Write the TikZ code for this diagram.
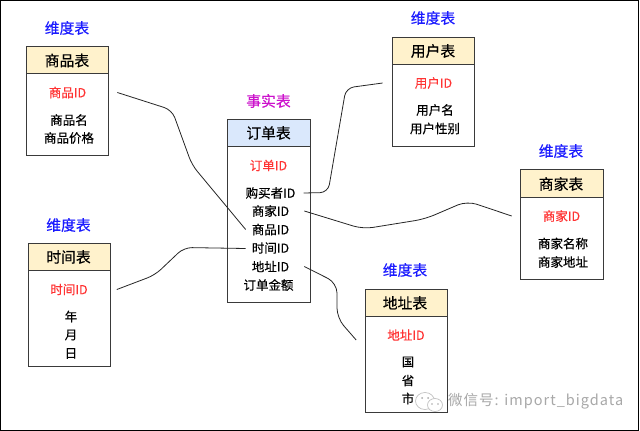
\documentclass[tikz,border=0pt]{standalone}
\usepackage{fontspec}
\setmainfont[FakeBold=0.35]{Noto Sans CJK SC}
\newfontfamily\wmfont[LetterSpace=7]{Noto Sans CJK SC}
\definecolor{hdyellow}{HTML}{FFF2CC}
\definecolor{hdblue}{HTML}{DAE8FC}
\definecolor{idred}{HTML}{FF3333}
\definecolor{dimblue}{HTML}{1A1AFF}
\definecolor{factmag}{HTML}{CC11CC}
\definecolor{wmgray}{HTML}{A8A8A8}
\definecolor{boxline}{HTML}{3A3A3A}
\tikzset{
  x=1pt,y=-1pt,
  tablebody/.style={draw=boxline,line width=1pt,fill=white},
  tablehead/.style={draw=boxline,line width=1pt},
  caption/.style={inner sep=0pt,font=\fontsize{14.8}{16}\selectfont},
  dimlabel/.style={caption,text=dimblue},
  factlabel/.style={caption,text=factmag},
  idfield/.style={inner sep=0pt,text=idred,font=\fontsize{12.5}{14}\selectfont},
  field/.style={inner sep=0pt,text=black,font=\fontsize{12.5}{14}\selectfont},
  link/.style={draw=black!85,line width=0.8pt,rounded corners=#1},
  link/.default=7pt
}
\newcommand{\tablebox}[7]{% name, x0, y0, x1, y1, yhead, colour
  \path[tablebody] (#2,#3) rectangle (#4,#5);
  \path[tablehead,fill=#7] (#2,#3) rectangle (#4,#6);
  \coordinate (#1) at (#2,#3);
}
\begin{document}
\begin{tikzpicture}
\useasboundingbox (0,0) rectangle (640,431);
\fill[white] (0,0) rectangle (640,431);
\draw[black,line width=1pt] (0.5,0.5) rectangle (638.5,430);

% tables
\tablebox{goods}{26}{46}{108}{155}{73}{hdyellow}
\tablebox{order}{227.5}{119.5}{310}{302}{146}{hdblue}
\tablebox{user}{392.5}{37}{474.5}{146}{64}{hdyellow}
\tablebox{shop}{520.5}{169.5}{603}{279}{197}{hdyellow}
\tablebox{time}{28}{243}{110}{366}{270}{hdyellow}
\tablebox{addr}{365}{289}{447}{412}{316}{hdyellow}

% goods
\node[dimlabel] (goodsdim) at (67,28) {维度表};
\node[caption] (goodstitle) at (67,60.5) {商品表};
\node[idfield] (goodsid) at (67.5,92.5) {商品ID};
\node[field] (goodsname) at (69,120) {商品名};
\node[field] (goodsprice) at (69,138) {商品价格};

% order
\node[factlabel] (factlab) at (268.5,101) {事实表};
\node[caption] (ordertitle) at (268.5,133) {订单表};
\node[idfield] (orderid) at (268.5,165.5) {订单ID};
\node[field] (obuyer) at (270.5,193) {购买者ID};
\node[field] (oshop) at (270.5,211) {商家ID};
\node[field] (ogoods) at (270.5,229.5) {商品ID};
\node[field] (otime) at (270.5,248) {时间ID};
\node[field] (oaddr) at (270.5,266.5) {地址ID};
\node[field] (oamount) at (268.5,285) {订单金额};

% user
\node[dimlabel] (userdim) at (433,18) {维度表};
\node[caption] (usertitle) at (433,51) {用户表};
\node[idfield] (userid) at (433.5,83) {用户ID};
\node[field] (username) at (435,110) {用户名};
\node[field] (usersex) at (435,128.5) {用户性别};

% shop
\node[dimlabel] (shopdim) at (561,151) {维度表};
\node[caption] (shoptitle) at (561,184) {商家表};
\node[idfield] (shopid) at (561.5,216) {商家ID};
\node[field] (shopname) at (563,243.5) {商家名称};
\node[field] (shopaddr) at (563,262) {商家地址};

% time
\node[dimlabel] (timedim) at (68.5,225) {维度表};
\node[caption] (timetitle) at (68.5,257) {时间表};
\node[idfield] (timeid) at (69,289.5) {时间ID};
\node[field] (tyear) at (71,316.5) {年};
\node[field] (tmonth) at (71,335) {月};
\node[field] (tday) at (71,353.5) {日};

% address
\node[dimlabel] (addrdim) at (405,270) {维度表};
\node[caption] (addrtitle) at (405,303) {地址表};
\node[idfield] (addrid) at (406,335) {地址ID};
\node[field] (acountry) at (408,362) {国};
\node[field] (aprov) at (408,380.5) {省};
\node[field] (acity) at (408,398.5) {市};

% connector ends, just clear of the field labels
\coordinate (goodsend) at ([xshift=31pt]goodsid.east);
\coordinate (ogoodsend) at ([xshift=-6pt]ogoods.west);
\coordinate (obuyerend) at ([xshift=8pt]obuyer.east);
\coordinate (userend) at ([xshift=-32pt]userid.west);
\coordinate (oshopend) at ([xshift=15pt]oshop.east);
\coordinate (shopend) at ([xshift=-31pt]shopid.west);
\coordinate (timeend) at ([xshift=29pt]timeid.east);
\coordinate (otimeend) at ([xshift=-6pt,yshift=-0.5pt]otime.west);
\coordinate (oaddrend) at ([xshift=15pt]oaddr.east);
\coordinate (addrend) at ([xshift=-31pt,yshift=-5pt]addrid.west);

% connectors
\draw[link=8pt] (goodsend) -- (172,110) -- (192,165) -- (ogoodsend);
\draw[link=8pt] (obuyerend) -- (328,192.5) -- (346,88) -- (userend);
\draw[link=10pt] (oshopend) -- (363,229) -- (425,219) -- (467,201) -- (shopend);
\draw[link=8pt] (timeend) -- (155,275) -- (184,247.5) -- (otimeend);
\draw[link=10pt] (oaddrend) -- (337,283) -- (337,318) -- (addrend);

% watermark
\begin{scope}[draw=wmgray!70,line width=0.7pt]
\draw (425,401) ellipse (9.5 and 8.5);
\draw[fill=white] (435,405) ellipse (7.5 and 6.5);
\fill[wmgray] (422,398) circle (1) (428,398) circle (1) (432,404) circle (0.8) (438,404) circle (0.8);
\end{scope}
\node[inner sep=0pt,anchor=west,text=wmgray,font=\wmfont\fontsize{14.5}{16}\selectfont] (wm) at (448,401) {微信号: import\_bigdata};
\end{tikzpicture}
\end{document}
